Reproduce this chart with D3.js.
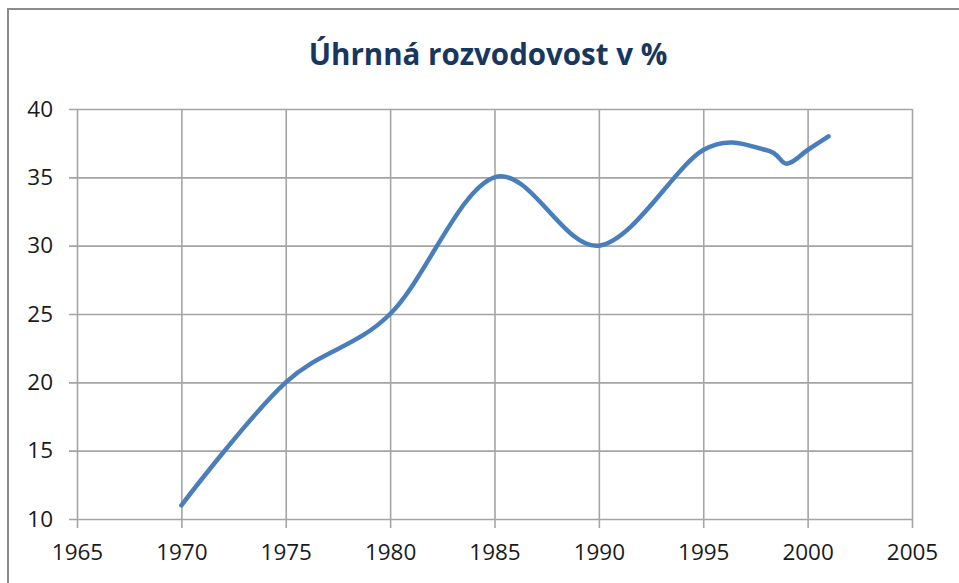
<!DOCTYPE html>
<html>
<head>
<meta charset="utf-8">
<script src="https://cdn.jsdelivr.net/npm/d3@7"></script>
<style>
  body { margin: 0; background: #fff; }
  svg { display: block; }
</style>
</head>
<body>
<script>
let width = 959;
let height = 583;

// plot area
let plotL = 77, plotR = 912, plotT = 109, plotB = 519;

const title = "Úhrnná rozvodovost v %";
const years = [1970, 1975, 1980, 1985, 1990, 1995, 1998, 1999, 2000, 2001];
const values = [11, 20, 25, 35, 30, 37, 37, 36, 37, 38];
const xTicks = [1965, 1970, 1975, 1980, 1985, 1990, 1995, 2000, 2005];
const yTicks = [10, 15, 20, 25, 30, 35, 40];

let svg = d3.select("body")
  .append("svg")
  .attr("width", width)
  .attr("height", height);

// outer chart frame (cut off at right/bottom like the picture)
svg.append("rect")
  .attr("x", 8).attr("y", 9)
  .attr("width", 980).attr("height", 620)
  .attr("fill", "#fff")
  .attr("stroke", "#8c8c8c")
  .attr("stroke-width", 2);

let scaleX = d3.scaleLinear().domain([1965, 2005]).range([plotL, plotR]);
let scaleY = d3.scaleLinear().domain([10, 40]).range([plotB, plotT]);

// gridlines + axes
let gridColor = "#a5a5a5";

let axisY = d3.axisLeft(scaleY).tickValues(yTicks)
  .tickSize(-(plotR - plotL) - 8).tickPadding(16);
let gY = svg.append("g")
  .attr("transform", `translate(${plotL - 8}, 0)`)
  .call(axisY);
gY.select(".domain").remove();

let axisX = d3.axisBottom(scaleX).tickValues(xTicks).tickFormat(d3.format("d"))
  .tickSize((plotB - plotT) + 9).tickPadding(16);
let gX = svg.append("g")
  .attr("transform", `translate(0, ${plotT})`)
  .call(axisX);
gX.select(".domain").remove();

svg.selectAll(".tick line")
  .attr("stroke", gridColor)
  .attr("stroke-width", 1.6);
svg.selectAll(".tick text")
  .attr("fill", "#1a1a1a")
  .style("font-family", "'Open Sans', sans-serif")
  .style("font-size", "22.5px");

// line
let line = d3.line()
  .x((d, i) => scaleX(years[i]))
  .y(d => scaleY(d))
  .curve(d3.curveCardinal.tension(0));

svg.append("path")
  .datum(values)
  .attr("d", line)
  .attr("fill", "none")
  .attr("stroke", "#4a7ebb")
  .attr("stroke-width", 4.5)
  .attr("stroke-linecap", "round")
  .attr("stroke-linejoin", "round");

// title
svg.append("text")
  .attr("x", 488)
  .attr("y", 65)
  .attr("text-anchor", "middle")
  .attr("fill", "#17375e")
  .style("font-family", "'Open Sans', sans-serif")
  .style("font-weight", "bold")
  .style("font-size", "29.5px")
  .text(title);
</script>
</body>
</html>
